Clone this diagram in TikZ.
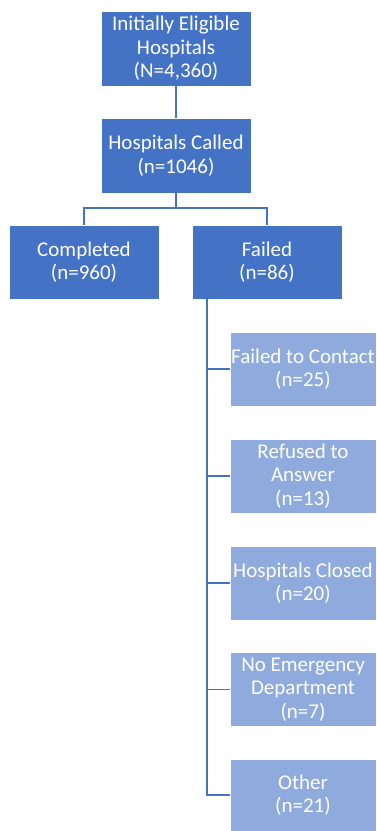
\documentclass[tikz,border=0pt]{standalone}
\usepackage{fontspec}
\setmainfont{Carlito}
\definecolor{mainblue}{HTML}{4472C4}
\definecolor{lightblue}{HTML}{8FAADC}
\tikzset{
    mainbox/.style={draw=white, line width=0.8pt, fill=mainblue, text=white, align=center,
        minimum width=150pt, minimum height=75pt, inner sep=0pt,
        font=\fontsize{21}{23.5}\selectfont},
    reasonbox/.style={mainbox, fill=lightblue, minimum width=146pt, minimum height=74pt},
    link/.style={draw=mainblue, line width=1.3pt}
}
\begin{document}
\begin{tikzpicture}[x=1pt, y=-1pt]
    \useasboundingbox (0,0) rectangle (376,831);

    % Top of the flow
    \node[mainbox] (eligible) at (176,48.5) {Initially Eligible\\Hospitals\\(N=4,360)};
    \node[mainbox] (called) at (176,155.5) {Hospitals Called\\(n=1046)};

    % Outcome of the calls
    \node[mainbox, minimum height=74pt] (completed) at (84,262) {Completed\\(n=960)};
    \node[mainbox, minimum height=74pt] (failed) at (267,262) {Failed\\(n=86)};

    % Reasons for failure
    \node[reasonbox] (contact) at (303,369) {Failed to Contact\\(n=25)};
    \node[reasonbox] (refused) at (303,476) {Refused to\\Answer\\(n=13)};
    \node[reasonbox] (closed) at (303,583) {Hospitals Closed\\(n=20)};
    \node[reasonbox] (noed) at (303,689.5) {No Emergency\\Department\\(n=7)};
    \node[reasonbox, minimum height=72pt] (other) at (303,795) {Other\\(n=21)};

    % Connectors
    \coordinate (split) at (176,208);
    \coordinate (trunk) at (207,299);
    \draw[link] (eligible) -- (called);
    \draw[link] (called) -- (split);
    \draw[link] (split) -| (completed.north);
    \draw[link] (split) -| (failed.north);
    \draw[link] (trunk) |- (other.west);
    \foreach \reason in {contact, refused, closed, noed}
        \draw[link] (trunk) |- (\reason.west);
\end{tikzpicture}
\end{document}
